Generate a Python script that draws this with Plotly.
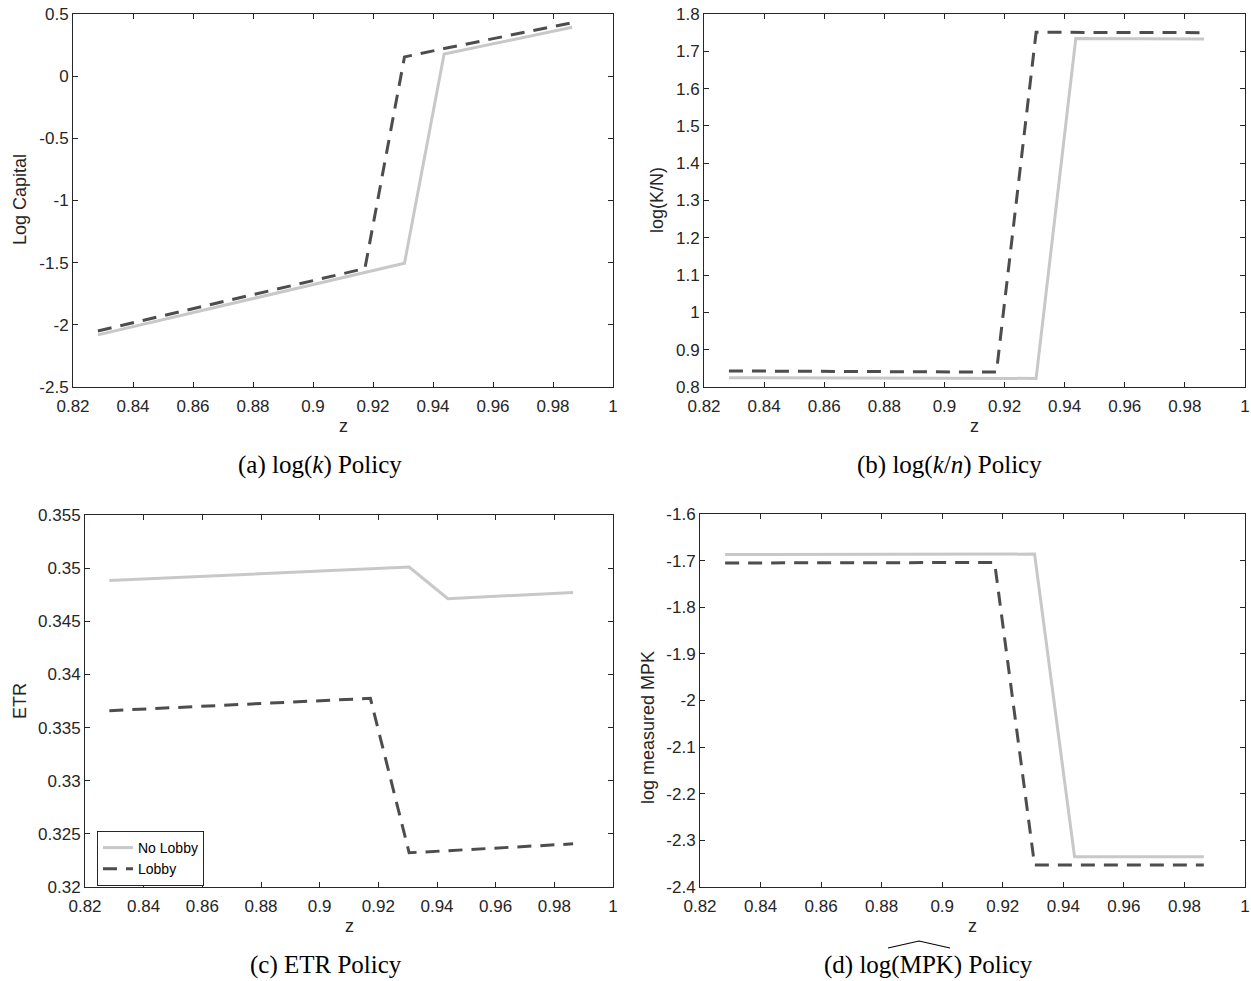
import plotly.graph_objects as go

# ---------------- data ----------------
z = [0.8283, 0.9173, 0.9305, 0.9437, 0.9864]

logk_nolobby = [-2.081, -1.578, -1.504, 0.178, 0.393]
logk_lobby = [-2.049, -1.547, 0.155, 0.222, 0.430]

logkn_nolobby = [0.825, 0.825, 0.823, 1.734, 1.733]
logkn_lobby = [0.843, 0.840, 1.751, 1.751, 1.750]

etr_nolobby = [0.34884, 0.34993, 0.35010, 0.34713, 0.34772]
etr_lobby = [0.33659, 0.33775, 0.32322, 0.32342, 0.32406]

mpk_nolobby = [-1.687, -1.686, -1.686, -2.335, -2.335]
mpk_lobby = [-1.705, -1.704, -2.353, -2.353, -2.353]

series_names = ["No Lobby", "Lobby"]

x_ticks = [0.82, 0.84, 0.86, 0.88, 0.9, 0.92, 0.94, 0.96, 0.98, 1.0]
x_ticktext = ["0.82", "0.84", "0.86", "0.88", "0.9", "0.92", "0.94", "0.96", "0.98", "1"]

ya_ticks = [-2.5, -2, -1.5, -1, -0.5, 0, 0.5]
ya_text = ["-2.5", "-2", "-1.5", "-1", "-0.5", "0", "0.5"]
yb_ticks = [0.8, 0.9, 1.0, 1.1, 1.2, 1.3, 1.4, 1.5, 1.6, 1.7, 1.8]
yb_text = ["0.8", "0.9", "1", "1.1", "1.2", "1.3", "1.4", "1.5", "1.6", "1.7", "1.8"]
yc_ticks = [0.32, 0.325, 0.33, 0.335, 0.34, 0.345, 0.35, 0.355]
yc_text = ["0.32", "0.325", "0.33", "0.335", "0.34", "0.345", "0.35", "0.355"]
yd_ticks = [-2.4, -2.3, -2.2, -2.1, -2.0, -1.9, -1.8, -1.7, -1.6]
yd_text = ["-2.4", "-2.3", "-2.2", "-2.1", "-2", "-1.9", "-1.8", "-1.7", "-1.6"]

y_titles = ["Log Capital", "log(K/N)", "ETR", "log measured MPK"]
captions = ["(a) log(<i>k</i>) Policy", "(b) log(<i>k</i>/<i>n</i>) Policy",
            "(c) ETR Policy", "(d) log(MPK) Policy"]

# ---------------- layout geometry ----------------
W, H = 1251, 981
boxes = [  # left, right, top, bottom in pixels
    (73, 613, 14, 387),
    (704, 1245, 14, 387),
    (85, 613, 515, 887),
    (700, 1245, 514, 887),
]

def px_x(p):
    return p / W

def px_y(p):
    return 1 - p / H

GRAY = "#c8c8c8"
DARK = "#4d4d4d"
AXC = "#262626"
SANS = "Liberation Sans, Arial, sans-serif"
SERIF = "Liberation Serif, Times New Roman, serif"

fig = go.Figure()

panels = [
    (logk_nolobby, logk_lobby, ya_ticks, ya_text, [-2.5, 0.5]),
    (logkn_nolobby, logkn_lobby, yb_ticks, yb_text, [0.8, 1.8]),
    (etr_nolobby, etr_lobby, yc_ticks, yc_text, [0.32, 0.355]),
    (mpk_nolobby, mpk_lobby, yd_ticks, yd_text, [-2.4, -1.6]),
]

layout_axes = {}
annotations = []
for i, (yn, yl, ytk, ytt, yr) in enumerate(panels):
    n = i + 1
    xa = "x" if n == 1 else f"x{n}"
    ya = "y" if n == 1 else f"y{n}"
    show = (n == 3)
    fig.add_trace(go.Scatter(x=z, y=yn, mode="lines", name=series_names[0],
                             line=dict(color=GRAY, width=3), xaxis=xa, yaxis=ya,
                             showlegend=show, legendrank=1))
    fig.add_trace(go.Scatter(x=z, y=yl, mode="lines", name=series_names[1],
                             line=dict(color=DARK, width=3, dash="14px,9px"),
                             xaxis=xa, yaxis=ya, showlegend=show, legendrank=2))
    l, r, t, b = boxes[i]
    common = dict(showline=True, linecolor=AXC, linewidth=1, mirror="ticks",
                  ticks="inside", ticklen=5, tickcolor=AXC, showgrid=False,
                  zeroline=False, automargin=False,
                  tickfont=dict(family=SANS, size=17, color=AXC))
    layout_axes["xaxis" if n == 1 else f"xaxis{n}"] = dict(
        domain=[px_x(l), px_x(r)], anchor=ya, range=[0.82, 1.0],
        tickvals=x_ticks, ticktext=x_ticktext, ticklabelstandoff=4, **common)
    layout_axes["yaxis" if n == 1 else f"yaxis{n}"] = dict(
        domain=[px_y(b), px_y(t)], anchor=xa, range=yr,
        tickvals=ytk, ticktext=ytt, **common)
    annotations.append(dict(text="z", xref="paper", yref="paper",
                            x=px_x((l + r) / 2), y=px_y(b + 39), xanchor="center",
                            yanchor="middle", showarrow=False,
                            font=dict(family=SANS, size=18, color=AXC)))

ytitle_pos = [(20, 200), (657, 200), (20, 701), (648, 728)]
for i in range(4):
    tx, ty = ytitle_pos[i]
    annotations.append(dict(text=y_titles[i], xref="paper", yref="paper",
                            x=px_x(tx), y=px_y(ty),
                            xanchor="center", yanchor="middle", textangle=-90,
                            showarrow=False,
                            font=dict(family=SANS, size=18, color=AXC)))

cap_pos = [(320, 465), (949, 465), (326, 965), (928, 965)]
for i in range(4):
    cx, cy = cap_pos[i]
    annotations.append(dict(text=captions[i], xref="paper", yref="paper",
                            x=px_x(cx), y=px_y(cy), xanchor="center",
                            yanchor="middle", showarrow=False,
                            font=dict(family=SERIF, size=25, color="black")))

# wide hat over MPK in caption (d)
hx0, hx1, hyb, hyt = 888, 950, 948, 941
shapes = [dict(type="path", xref="paper", yref="paper",
               path=f"M {px_x(hx0)} {px_y(hyb)} L {px_x((hx0 + hx1) / 2)} {px_y(hyt)} L {px_x(hx1)} {px_y(hyb)}",
               line=dict(color="black", width=1.2))]

fig.update_layout(
    width=W, height=H, margin=dict(l=0, r=0, t=0, b=0, autoexpand=False),
    paper_bgcolor="white", plot_bgcolor="white",
    annotations=annotations, shapes=shapes,
    legend=dict(x=px_x(97), y=px_y(831), xanchor="left", yanchor="top",
                bordercolor=AXC, borderwidth=1, bgcolor="white",
                font=dict(family=SANS, size=14, color="black"),
                itemwidth=30, tracegroupgap=0),
    **layout_axes,
)

fig.write_html("out.html")
